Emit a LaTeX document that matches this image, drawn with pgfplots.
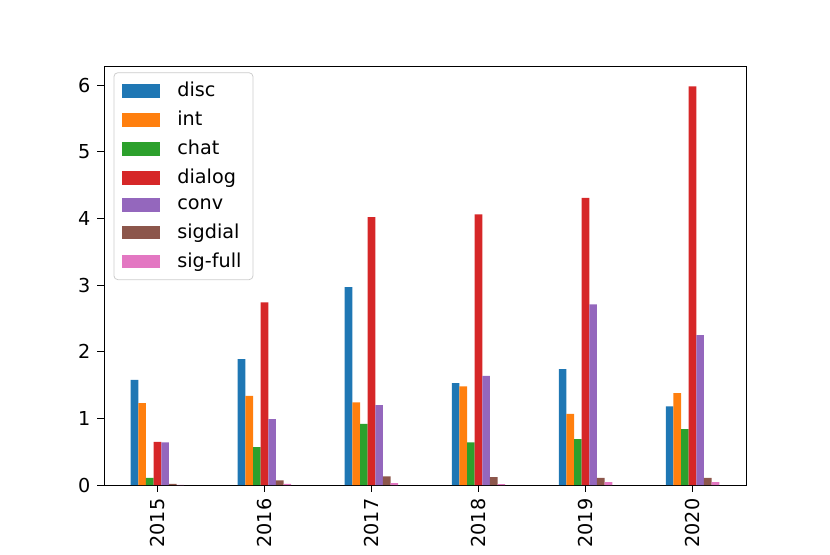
\documentclass[border=0pt]{standalone}
\usepackage{pgfplots}
\pgfplotsset{compat=1.18}
\usepackage{fontspec}
\setmainfont{DejaVu Sans}
\definecolor{c0}{HTML}{1F77B4}
\definecolor{c1}{HTML}{FF7F0E}
\definecolor{c2}{HTML}{2CA02C}
\definecolor{c3}{HTML}{D62728}
\definecolor{c4}{HTML}{9467BD}
\definecolor{c5}{HTML}{8C564B}
\definecolor{c6}{HTML}{E377C2}
\newcommand{\legtxt}[1]{\hspace{7pt}#1}
\begin{document}
\begin{tikzpicture}
\useasboundingbox (-54.1pt,-35.9pt) rectangle (377.9pt,252.5pt);
\begin{axis}[
  at={(0,0)}, anchor=south west,
  scale only axis, width=334.2pt, height=218.1pt,
  ybar=0pt, bar width=0.0714,
  xmin=-0.5, xmax=5.5, ymin=0, ymax=6.285,
  xtick={0,1,2,3,4,5},
  xticklabels={2015,2016,2017,2018,2019,2020},
  xticklabel style={rotate=90, anchor=east},
  ytick={0,1,2,3,4,5,6},
  tick align=outside, xtick pos=bottom, ytick pos=left,
  major tick length=3.5pt,
  tick style={black, line width=0.4pt},
  axis line style={line width=0.4pt},
  /pgf/number format/assume math mode=true,
  tick label style={font=\fontsize{10}{12}\selectfont},
  legend image code/.code={\fill[#1, sharp corners, fill opacity=1] (0pt,-3.5pt) rectangle (20pt,3.5pt);},
  legend style={at={(0.015,0.985)}, anchor=north west, draw=black!20, rounded corners=2pt,
    fill=white, fill opacity=0.8, text opacity=1, font=\fontsize{10}{12}\selectfont,
    row sep=2.0pt, inner xsep=4pt, inner ysep=3pt},
  legend cell align=left,
]
\addplot[fill=c0, draw=none] coordinates {(0,1.58) (1,1.89) (2,2.97) (3,1.53) (4,1.74) (5,1.18)};
\addplot[fill=c1, draw=none] coordinates {(0,1.23) (1,1.34) (2,1.24) (3,1.48) (4,1.07) (5,1.38)};
\addplot[fill=c2, draw=none] coordinates {(0,0.11) (1,0.57) (2,0.92) (3,0.64) (4,0.69) (5,0.84)};
\addplot[fill=c3, draw=none] coordinates {(0,0.65) (1,2.74) (2,4.02) (3,4.06) (4,4.31) (5,5.98)};
\addplot[fill=c4, draw=none] coordinates {(0,0.64) (1,0.99) (2,1.20) (3,1.64) (4,2.71) (5,2.25)};
\addplot[fill=c5, draw=none] coordinates {(0,0.02) (1,0.07) (2,0.13) (3,0.12) (4,0.11) (5,0.11)};
\addplot[fill=c6, draw=none] coordinates {(0,0.005) (1,0.02) (2,0.03) (3,0.015) (4,0.045) (5,0.045)};
\legend{\legtxt{disc},\legtxt{int},\legtxt{chat},\legtxt{dialog},\legtxt{conv},\legtxt{sigdial},\legtxt{sig-full}}
\end{axis}
\end{tikzpicture}
\end{document}
